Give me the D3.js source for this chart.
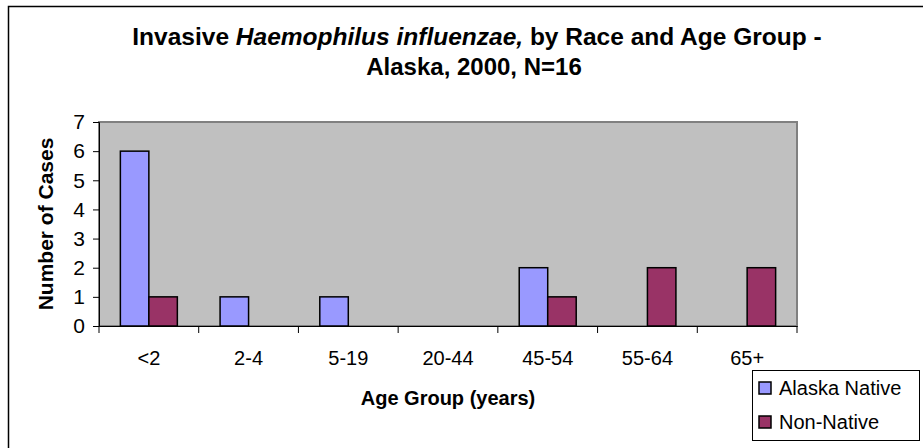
<!DOCTYPE html>
<html><head><meta charset="utf-8">
<script src="https://cdn.jsdelivr.net/npm/d3@7"></script>
<style>body{margin:0;background:#fff}svg{display:block;font-family:Arial,"Liberation Sans",sans-serif}</style>
</head><body><svg id="c" width="923" height="448"></svg>
<script>
const categories = ["<2","2-4","5-19","20-44","45-54","55-64","65+"];
const seriesNames = ["Alaska Native","Non-Native"];
const alaskaNative = [6,1,1,0,2,0,0];
const nonNative = [1,0,0,0,1,2,2];
const yTicks = [0,1,2,3,4,5,6,7];
const colors = ["#9999FF","#993366"];

const svg = d3.select("#c");
// outer chart border
svg.append("rect").attr("x",8.5).attr("y",6.5).attr("width",940).attr("height",460)
  .attr("fill","#fff").attr("stroke","#000").attr("stroke-width",1.5);

const L=99, R=797, T=122, B=326;
const x = d3.scaleBand().domain(categories).range([L,R]).paddingInner(0).paddingOuter(0);
const y = d3.scaleLinear().domain([0,7]).range([B,T]);
const bw = x.bandwidth()/3.5;
const xs = d3.scaleBand().domain(seriesNames).range([0,2*bw]);

// plot area
svg.append("rect").attr("x",L).attr("y",T).attr("width",R-L).attr("height",B-T)
  .attr("fill","#C0C0C0").attr("stroke","#808080").attr("stroke-width",2);

const data = [alaskaNative, nonNative];
data.forEach((vals,si)=>{
  svg.append("g").selectAll("rect").data(vals.map((v,i)=>({v,c:categories[i]})))
    .join("rect")
    .attr("x",d=>x(d.c)+x.bandwidth()/2-bw+xs(seriesNames[si]))
    .attr("y",d=>y(d.v))
    .attr("width",bw)
    .attr("height",d=>y(0)-y(d.v))
    .attr("fill",colors[si])
    .attr("stroke",d=>d.v>0?"#000":"none")
    .attr("stroke-width",1.5);
});

// y axis
const ya = d3.axisLeft(y).tickValues(yTicks).tickSize(6).tickPadding(8).tickFormat(d3.format("d"));
const gy = svg.append("g").attr("transform",`translate(${L},0)`).call(ya);
gy.select(".domain").attr("stroke","#000").attr("stroke-width",1);
gy.selectAll("text").attr("font-size",21).attr("fill","#000").attr("font-family","Arial, Liberation Sans, sans-serif");

// x axis
const xa = d3.axisBottom(x).tickSize(0).tickPadding(0);
const gx = svg.append("g").attr("transform",`translate(0,${B})`).call(xa);
gx.select(".domain").attr("stroke","#000");
gx.selectAll(".tick text").attr("y",39).attr("dy",0).attr("font-size",20).attr("fill","#000")
  .attr("font-family","Arial, Liberation Sans, sans-serif");
// boundary ticks
const bounds = categories.map(c=>x(c)).concat([R]);
svg.append("g").selectAll("line").data(bounds).join("line")
  .attr("x1",d=>d).attr("x2",d=>d).attr("y1",B).attr("y2",B+7).attr("stroke","#000");

// titles
const t = svg.append("text").attr("x",477).attr("y",45).attr("text-anchor","middle")
  .attr("font-size",24.5).attr("font-weight","bold");
t.append("tspan").text("Invasive ");
t.append("tspan").attr("font-style","italic").text("Haemophilus influenzae,");
t.append("tspan").text(" by Race and Age Group -");
svg.append("text").attr("x",474).attr("y",75).attr("text-anchor","middle")
  .attr("font-size",24).attr("font-weight","bold").text("Alaska, 2000, N=16");

svg.append("text").attr("x",(L+R)/2).attr("y",405).attr("text-anchor","middle")
  .attr("font-size",20).attr("font-weight","bold").text("Age Group (years)");
svg.append("text").attr("transform",`translate(53,${(T+B)/2}) rotate(-90)`).attr("text-anchor","middle")
  .attr("font-size",21).attr("font-weight","bold").text("Number of Cases");

// legend
const lg = svg.append("g");
lg.append("rect").attr("x",752.5).attr("y",370.5).attr("width",167).attr("height",70)
  .attr("fill","#fff").attr("stroke","#000").attr("stroke-width",1);
seriesNames.forEach((n,i)=>{
  const cy = 388 + i*34;
  lg.append("rect").attr("x",759).attr("y",cy-6).attr("width",12).attr("height",12)
    .attr("fill",colors[i]).attr("stroke","#000").attr("stroke-width",1.5);
  lg.append("text").attr("x",779).attr("y",cy+7).attr("font-size",20).text(n);
});
</script></body></html>
